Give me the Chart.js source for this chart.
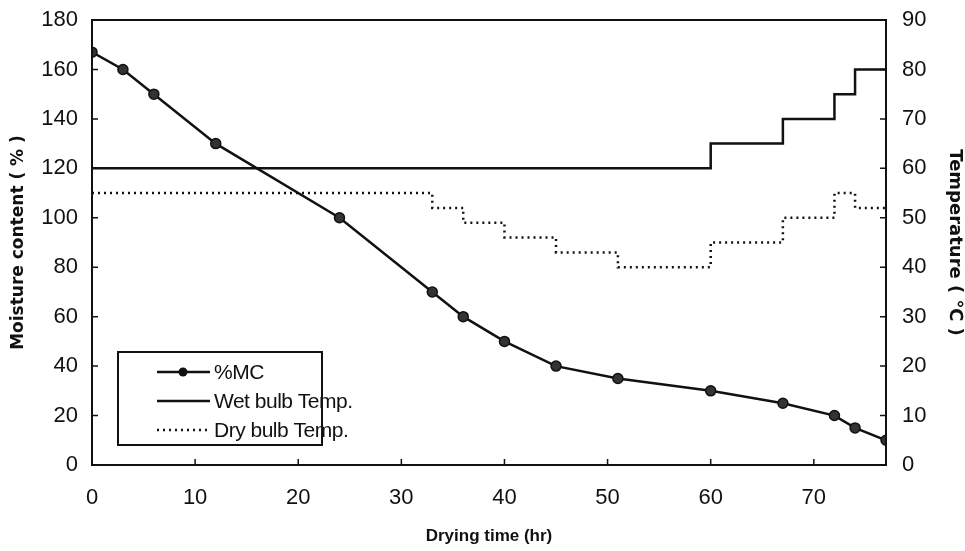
<!DOCTYPE html>
<html>
<head>
<meta charset="utf-8">
<script src="https://cdn.jsdelivr.net/npm/chart.js@4/dist/chart.umd.min.js"></script>
<style>
  html, body { margin: 0; padding: 0; background: #fff; }
  #wrap { width: 965px; height: 551px; }
</style>
</head>
<body>
<div id="wrap"><canvas id="dryChart"></canvas></div>
<script>
// drying time (hr) and moisture content (%)
const mcTime = [0, 3, 6, 12, 24, 33, 36, 40, 45, 51, 60, 67, 72, 74, 77];
const mcValue = [167, 160, 150, 130, 100, 70, 60, 50, 40, 35, 30, 25, 20, 15, 10];

// temperatures (C), value holds from each time to the next one
const wetTime = [0, 60, 67, 72, 74, 77];
const wetTemp = [60, 65, 70, 75, 80, 80];
const dryTime = [0, 33, 36, 40, 45, 51, 60, 67, 72, 74, 77];
const dryTemp = [55, 52, 49, 46, 43, 40, 45, 50, 55, 52, 52];

const xTicks = [0, 10, 20, 30, 40, 50, 60, 70];
const ink = '#111';
const tickFont = { family: 'Arial, sans-serif', size: 22, lineHeight: 1 };

const toPts = (xs, ys) => xs.map((x, i) => ({ x: x, y: ys[i] }));

// inward tick marks + legend box inside the plot
const decor = {
  id: 'decor',
  afterDraw(chart) {
    const c = chart.ctx, a = chart.chartArea;
    const s = chart.scales;
    c.save();
    c.strokeStyle = ink;
    c.lineWidth = 2;
    c.strokeRect(a.left, a.top, a.right - a.left, a.bottom - a.top);
    c.lineWidth = 1.5;
    c.beginPath();
    xTicks.forEach(v => {
      const px = s.x.getPixelForValue(v);
      c.moveTo(px, a.bottom); c.lineTo(px, a.bottom - 6);
    });
    s.y.ticks.forEach(t => {
      const py = s.y.getPixelForValue(t.value);
      c.moveTo(a.left, py); c.lineTo(a.left + 6, py);
    });
    s.y2.ticks.forEach(t => {
      const py = s.y2.getPixelForValue(t.value);
      c.moveTo(a.right, py); c.lineTo(a.right - 6, py);
    });
    c.stroke();

    // legend
    const bx = 118, by = 352, bw = 204, bh = 93;
    c.fillStyle = '#fff';
    c.fillRect(bx, by, bw, bh);
    c.lineWidth = 2;
    c.strokeRect(bx, by, bw, bh);
    c.font = '21px Arial, sans-serif';
    c.letterSpacing = '-0.5px';
    c.textBaseline = 'middle';
    chart.data.datasets.forEach((ds, i) => {
      const ly = by + 20 + i * 29;
      c.beginPath();
      c.lineWidth = ds.borderWidth;
      c.setLineDash(ds.borderDash || []);
      c.moveTo(157, ly); c.lineTo(210, ly);
      c.stroke();
      c.setLineDash([]);
      if (ds.pointRadius > 0) {
        c.beginPath();
        c.arc(183, ly, 4.5, 0, Math.PI * 2);
        c.fillStyle = ink;
        c.fill();
      }
      c.fillStyle = ink;
      c.fillText(ds.label, 214, ly + 1);
    });
    c.restore();
  }
};

new Chart(document.getElementById('dryChart').getContext('2d'), {
  type: 'line',
  data: {
    datasets: [
      {
        label: '%MC',
        data: toPts(mcTime, mcValue),
        yAxisID: 'y',
        borderColor: ink,
        backgroundColor: ink,
        borderWidth: 2.5,
        pointRadius: 5,
        pointBackgroundColor: '#333',
        pointBorderColor: ink,
        pointBorderWidth: 1.5
      },
      {
        label: 'Wet bulb Temp.',
        data: toPts(wetTime, wetTemp),
        yAxisID: 'y2',
        borderColor: ink,
        borderWidth: 2.5,
        pointRadius: 0,
        stepped: 'before'
      },
      {
        label: 'Dry bulb Temp.',
        data: toPts(dryTime, dryTemp),
        yAxisID: 'y2',
        borderColor: ink,
        borderWidth: 2.5,
        borderDash: [2, 4],
        pointRadius: 0,
        stepped: 'before'
      }
    ]
  },
  options: {
    responsive: true,
    maintainAspectRatio: false,
    animation: false,
    layout: { padding: { top: 20, left: 0, right: 0, bottom: 0 } },
    plugins: { legend: { display: false }, tooltip: { enabled: false } },
    scales: {
      x: {
        type: 'linear',
        min: 0,
        max: 77,
        afterBuildTicks: sc => { sc.ticks = xTicks.map(v => ({ value: v })); },
        afterFit: sc => { sc.height = 86; },
        grid: { display: false, drawTicks: false },
        border: { display: false },
        ticks: { color: ink, font: tickFont, padding: 22, maxRotation: 0 },
        title: {
          display: true,
          text: 'Drying time (hr)',
          color: ink,
          font: { family: 'Arial, sans-serif', size: 17, weight: 'bold' },
          padding: { top: 4 }
        }
      },
      y: {
        position: 'left',
        min: 0,
        max: 180,
        afterFit: sc => { sc.width = 92; sc.paddingTop = 0; },
        grid: { display: false, drawTicks: false },
        border: { display: false },
        ticks: { stepSize: 20, color: ink, font: tickFont, padding: 14 },
        title: {
          display: true,
          text: 'Moisture content ( % )',
          color: ink,
          font: { family: 'DejaVu Sans, sans-serif', size: 17, weight: 'bold' },
          padding: { top: 8, bottom: 0 }
        }
      },
      y2: {
        position: 'right',
        min: 0,
        max: 90,
        afterFit: sc => { sc.width = 79; sc.paddingTop = 0; },
        grid: { display: false, drawTicks: false },
        border: { display: false },
        ticks: { stepSize: 10, color: ink, font: tickFont, padding: 16 },
        title: {
          display: true,
          text: 'Temperature ( ℃ )',
          color: ink,
          font: { family: 'DejaVu Sans, sans-serif', size: 18, weight: 'bold' },
          padding: { top: 0, bottom: 4 }
        }
      }
    }
  },
  plugins: [decor]
});
</script>
</body>
</html>
